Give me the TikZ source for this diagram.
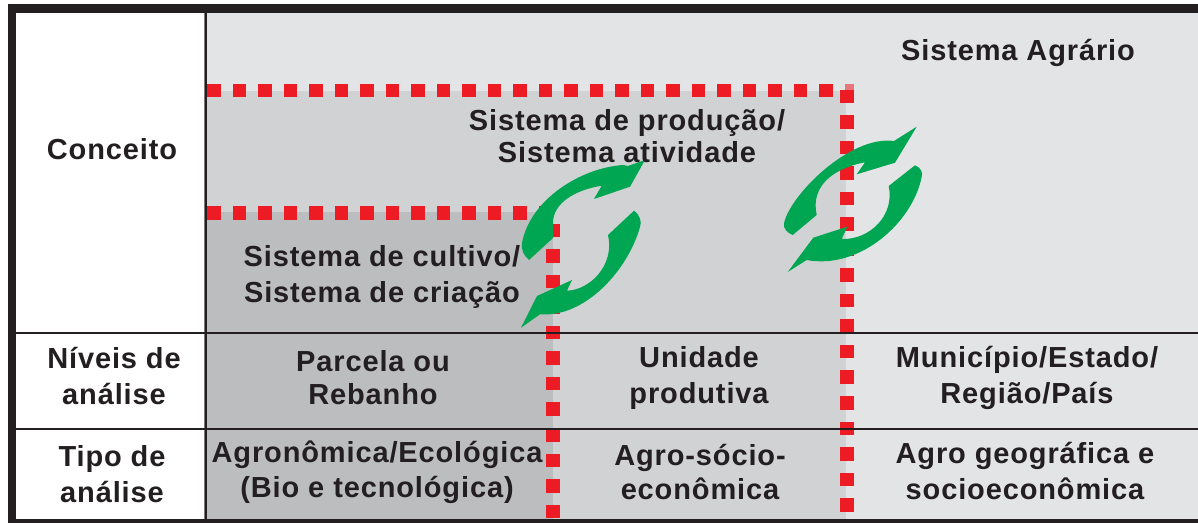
\documentclass[tikz,border=0pt]{standalone}
\usepackage{fontspec}
\setmainfont[LetterSpace=3]{Liberation Sans}
\definecolor{darkline}{HTML}{231F20}
\definecolor{lightfill}{HTML}{E3E4E6}
\definecolor{midfill}{HTML}{D1D2D4}
\definecolor{deepfill}{HTML}{BCBDBF}
\definecolor{dotred}{HTML}{ED1C24}
\definecolor{turngreen}{HTML}{00A651}
\tikzset{
  dotsq/.style={fill=dotred},
  turn/.style={fill=turngreen},
  frameline/.style={fill=darkline},
  rowline/.style={darkline,line width=2pt}
}
\begin{document}
\begin{tikzpicture}[x=0.75pt,y=-0.75pt, every node/.style={font=\bfseries\fontsize{21.75}{26.5}\selectfont,text=darkline,align=center,inner sep=0pt}]
  \useasboundingbox (0,0) rectangle (1198,523);
  \fill[white] (0,0) rectangle (1198,523);
  % regions
  \fill[lightfill] (207,13) rectangle (1198,519);
  \fill[midfill] (207,91) rectangle (846,519);
  \fill[deepfill] (207,212) rectangle (553,519);
  % dotted borders
  \foreach \k in {0,...,24} \fill[dotsq] (207+25.5*\k,84) rectangle ++(13.5,13.5);
  \foreach \k in {0,...,13} \fill[dotsq] (207+25.5*\k,206.5) rectangle ++(13.5,13.5);
  \foreach \k in {0,...,16} \fill[dotsq] (840,90+25.5*\k) rectangle ++(13.5,13.5);
  \foreach \k in {0,...,11} \fill[dotsq] (546,224+25.5*\k) rectangle ++(13.5,13.5);
  \fill[dotred!55!lightfill] (845,84) rectangle (853.5,90);
  % frame and rows
  \fill[frameline] (8,4.5) rectangle (1198,13);
  \fill[frameline] (8,4.5) rectangle (16,523);
  \fill[frameline] (8,519) rectangle (1198,523);
  \draw[darkline!60,line width=0.75pt] (204.5,13) -- (204.5,519);
  \draw[darkline,line width=1.2pt] (206,13) -- (206,519);
  \draw[rowline] (16,333) -- (1198,333);
  \draw[rowline] (16,429) -- (1198,429);
  % turning arrows
  \fill[turn] (645,160) -- (630,186.7) -- (594,199) -- (601.7,185.7)
    .. controls (575,190) and (553,203) .. (553,223) -- (553,238) -- (529,260)
    .. controls (524,256) and (521,250) .. (522,243)
    .. controls (530,200) and (580,168) .. (623,165) -- (628,166) -- cycle;
  \fill[turn] (521,327.7) -- (537,296) -- (572,280) -- (567,290.7)
    .. controls (590,290) and (615,265) .. (608,235) -- (634,210.7)
    .. controls (640,215) and (642,222) .. (640,227)
    .. controls (628,270) and (585,318) .. (540,314.3) -- cycle;
  \fill[turn] (916.7,126.7) -- (895,162.7) -- (856.7,174.3) -- (865,162.3)
    .. controls (835,168) and (810,185) .. (816.7,215) -- (792.7,235)
    .. controls (787,233) and (783,228) .. (784,223.3)
    .. controls (790,195) and (850,135) .. (894,141) -- cycle;
  \fill[turn] (787.7,272) -- (813.3,237.7) -- (847.3,226.7) -- (841.7,239)
    .. controls (870,240) and (895,215) .. (888.7,186) -- (915,165.3)
    .. controls (921,168) and (923,172) .. (921.7,176.7)
    .. controls (913,222) and (860,270) .. (806.7,260) -- cycle;
  % labels
  \node (conceito) at (112,149) {Conceito};
  \node (agrario) at (1018,52.5) {Sistema Agrário};
  \node (producao) at (627,136) {Sistema de produção/\\[-2.5pt]Sistema atividade};
  \node (cultivo) at (382,277) {Sistema de cultivo/\\Sistema de criação};
  \node (niveis) at (114,376) {Níveis de\\análise};
  \node (parcela) at (373,377.5) {Parcela ou\\[-2pt]Rebanho};
  \node (unidade) at (699,378) {Unidade\\produtiva};
  \node (municipio) at (1027,378) {Município/Estado/\\Região/País};
  \node (tipo) at (112,474) {Tipo de\\análise};
  \node (agronomica) at (377,472.5) {Agronômica/Ecológica\\(Bio e tecnológica)};
  \node (socio) at (700,472) {Agro-sócio-\\[-1pt]econômica};
  \node (geografica) at (1025,471) {Agro geográfica e\\socioeconômica};
\end{tikzpicture}
\end{document}
